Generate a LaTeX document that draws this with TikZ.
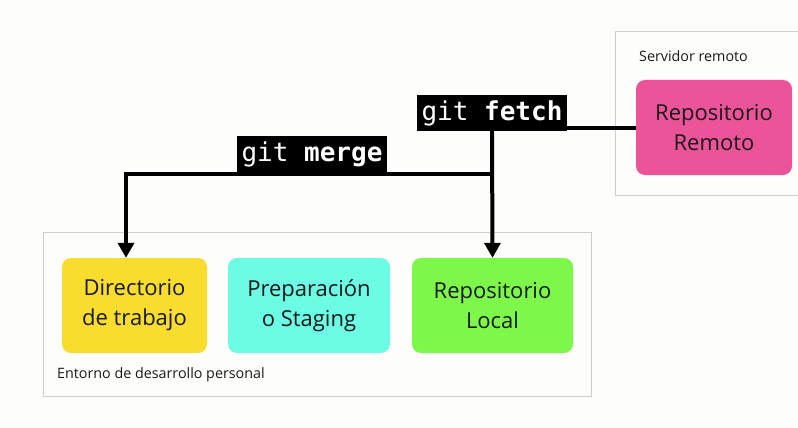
\documentclass[tikz,border=0pt]{standalone}
\usepackage{fontspec}
\setmainfont{Open Sans}
\setmonofont{DejaVu Sans Mono}
\usetikzlibrary{arrows.meta}
\definecolor{gitbg}{RGB}{253,253,251}
\definecolor{gitframe}{RGB}{205,205,205}
\definecolor{gityellow}{RGB}{248,220,46}
\definecolor{gitcyan}{RGB}{108,252,230}
\definecolor{gitgreen}{RGB}{125,248,74}
\definecolor{gitpink}{RGB}{236,84,153}
\definecolor{gittext}{RGB}{25,25,25}

\begin{document}
\begin{tikzpicture}[x=1pt, y=-1pt, every node/.style={inner sep=0pt, text=gittext}]
    \tikzstyle{block} = [rectangle, rounded corners=9pt, minimum height=95pt,
        align=center, font=\fontsize{22}{30}\selectfont]
    \tikzstyle{area} = [rectangle, draw=gitframe, line width=0.6pt, minimum height=164pt]
    \tikzstyle{caption} = [anchor=base west, font=\fontsize{14.3}{17}\selectfont]
    \tikzstyle{cmd} = [fill=black, text=white, minimum width=150pt, minimum height=36pt,
        font=\ttfamily\fontsize{26}{26}\selectfont]
    \tikzstyle{arrow} = [line width=4pt, -{Triangle[length=15pt, width=16pt]}]

    \useasboundingbox [fill=gitbg] (0,0) rectangle (798,428);

    % zonas
    \node [area, minimum width=548pt] (entorno) at (317,314) {};
    \node [area, minimum width=215pt] (servidor) at (722.5,113.5) {};
    \node [caption] (entornolabel) at (57,378) {Entorno de desarrollo personal};
    \node [caption] (servidorlabel) at (639,62) {Servidor remoto};

    % repositorios
    \node [block, fill=gityellow, minimum width=145pt] (trabajo) at (134.5,305.5) {Directorio\\de trabajo};
    \node [block, fill=gitcyan, minimum width=162pt] (staging) at (309,305.5) {Preparación\\o Staging};
    \node [block, fill=gitgreen, minimum width=161pt] (local) at (492.5,305.5) {Repositorio\\Local};
    \node [block, fill=gitpink, minimum width=156pt] (remoto) at (714,127.5) {Repositorio\\Remoto};

    % comandos
    \node [cmd] (fetch) at (492,113) {git \textbf{fetch}};
    \node [cmd] (merge) at (312,154) {git \textbf{merge}};
    \coordinate (split) at (492,174);

    \draw [line width=4pt] (remoto.west) -- (remoto.west -| fetch.east);
    \draw [arrow] (fetch.south) -- (local.north);
    \draw [arrow] (split) -| ([xshift=-8.5pt]trabajo.north);
\end{tikzpicture}
\end{document}
